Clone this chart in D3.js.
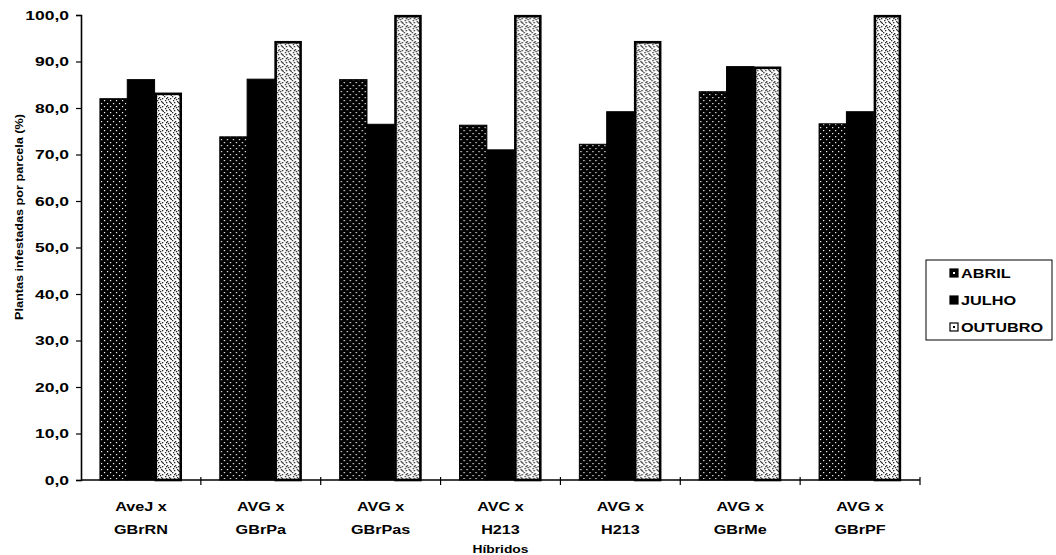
<!DOCTYPE html>
<html>
<head>
<meta charset="utf-8">
<script src="https://cdn.jsdelivr.net/npm/d3@7"></script>
<style>
  body { margin: 0; background: #fff; }
  text { font-family: "Liberation Sans", Arial, sans-serif; fill: #000; }
</style>
</head>
<body>
<div id="chart"></div>
<script>
const categories = ["AveJ x GBrRN", "AVG x GBrPa", "AVG x GBrPas", "AVC x H213", "AVG x H213", "AVG x GBrMe", "AVG x GBrPF"];
const series = ["ABRIL", "JULHO", "OUTUBRO"];
const abril = [82.0, 73.8, 86.1, 76.3, 72.2, 83.5, 76.6];
const julho = [86.1, 86.2, 76.5, 71.0, 79.2, 88.9, 79.2];
const outubro = [83.3, 94.4, 100.0, 100.0, 94.4, 88.9, 100.0];
const yTicks = [0, 10, 20, 30, 40, 50, 60, 70, 80, 90, 100];

const values = { ABRIL: abril, JULHO: julho, OUTUBRO: outubro };
const data = categories.map((c, i) => ({ cat: c, vals: series.map((s) => ({ key: s, v: values[s][i] })) }));

const width = 1056, height = 555;
const plotLeft = 81, plotRight = 920, plotTop = 15, plotBottom = 480;

const svg = d3.select("#chart").append("svg").attr("width", width).attr("height", height);

// patterns that imitate the scanned hatching
const defs = svg.append("defs");
const pa = defs.append("pattern").attr("id", "patAbril").attr("patternUnits", "userSpaceOnUse")
  .attr("width", 6).attr("height", 6);
pa.append("rect").attr("width", 6).attr("height", 6).attr("fill", "#000");
[[1, 1], [4, 4]].forEach((p) => pa.append("rect").attr("x", p[0]).attr("y", p[1]).attr("width", 1.2).attr("height", 1.2).attr("fill", "#fff"));

const po = defs.append("pattern").attr("id", "patOut").attr("patternUnits", "userSpaceOnUse")
  .attr("width", 8).attr("height", 8);
po.append("rect").attr("width", 8).attr("height", 8).attr("fill", "#fff");
[[0, 0], [3, 1], [6, 2], [1, 4], [5, 5], [2, 6], [7, 7], [4, 3], [2, 2], [6, 6]].forEach((p) =>
  po.append("rect").attr("x", p[0]).attr("y", p[1]).attr("width", 1.3).attr("height", 1.3).attr("fill", "#222"));

const fills = { ABRIL: "url(#patAbril)", JULHO: "#000", OUTUBRO: "url(#patOut)" };

const x0 = d3.scaleBand().domain(categories).range([plotLeft, plotRight]).paddingInner(0.316).paddingOuter(0.158);
const x1 = d3.scaleBand().domain(series).range([0, x0.bandwidth()]);
const y = d3.scaleLinear().domain([0, 100]).range([plotBottom, plotTop]);

// widen text horizontally like the scanned original
function stretch(sel, k) {
  sel.each(function () {
    const t = d3.select(this);
    const x = +t.attr("x") || 0;
    t.attr("x", x / k).attr("transform", `scale(${k},1)`);
  });
}

// bars
const groups = svg.selectAll("g.grp").data(data).enter().append("g")
  .attr("transform", (d) => `translate(${x0(d.cat)},0)`);
groups.selectAll("rect").data((d) => d.vals).enter().append("rect")
  .attr("x", (d) => x1(d.key) + (d.key === "OUTUBRO" ? 1.2 : 0))
  .attr("y", (d) => y(d.v) + (d.key === "OUTUBRO" ? 1.2 : 0))
  .attr("width", (d) => x1.bandwidth() - (d.key === "OUTUBRO" ? 2.4 : 0))
  .attr("height", (d) => plotBottom - y(d.v) - (d.key === "OUTUBRO" ? 1.2 : 0))
  .attr("fill", (d) => fills[d.key])
  .attr("stroke", "#000")
  .attr("stroke-width", (d) => (d.key === "OUTUBRO" ? 2.6 : 1));

// y axis
const yAxis = svg.append("g").attr("transform", `translate(${plotLeft},0)`)
  .call(d3.axisLeft(y).tickValues(yTicks).tickSize(5).tickPadding(7)
    .tickFormat((d) => d3.format(".1f")(d).replace(".", ",")));
yAxis.select(".domain").attr("stroke", "#000").attr("stroke-width", 1.6);
yAxis.selectAll(".tick line").attr("stroke", "#000").attr("stroke-width", 1.2);
yAxis.selectAll(".tick text").attr("font-size", 12.5).attr("font-weight", "bold")
  .attr("font-family", "Liberation Sans, Arial, sans-serif").call(stretch, 1.4);

// x axis
const xAxis = svg.append("g").attr("transform", `translate(0,${plotBottom})`);
xAxis.append("line").attr("x1", plotLeft).attr("x2", plotRight).attr("stroke", "#000").attr("stroke-width", 1.6);
const bounds = categories.map((c) => x0(c) - x0.step() * x0.paddingInner() / 2).concat([plotRight]);
xAxis.selectAll("line.tk").data(bounds.slice(1)).enter().append("line")
  .attr("x1", (d) => d).attr("x2", (d) => d).attr("y1", -3).attr("y2", 5)
  .attr("stroke", "#000").attr("stroke-width", 1.2);

const labels = xAxis.selectAll("g.lbl").data(categories).enter().append("g")
  .attr("transform", (d) => `translate(${x0(d) + x0.bandwidth() / 2},0)`);
labels.append("text").attr("y", 31).attr("text-anchor", "middle").attr("font-size", 12).attr("font-weight", "bold")
  .text((d) => d.split(" x ")[0] + " x");
labels.append("text").attr("y", 54).attr("text-anchor", "middle").attr("font-size", 12).attr("font-weight", "bold")
  .text((d) => d.split(" x ")[1]);
labels.selectAll("text").call(stretch, 1.35);

// axis titles
svg.append("g").attr("transform", `translate(${(plotLeft + plotRight) / 2},553)`)
  .append("text").attr("text-anchor", "middle")
  .attr("font-size", 11.5).attr("font-weight", "bold").text("Híbridos").call(stretch, 1.2);
svg.append("g").attr("transform", `translate(23,217) rotate(-90)`)
  .append("text").attr("text-anchor", "middle")
  .attr("font-size", 11).attr("font-weight", "bold").text("Plantas infestadas por parcela (%)").call(stretch, 1.15);

// legend
const lg = svg.append("g").attr("transform", "translate(926,260)");
lg.append("rect").attr("width", 126).attr("height", 80).attr("fill", "#fff").attr("stroke", "#000").attr("stroke-width", 1);
const items = lg.selectAll("g.it").data(series).enter().append("g")
  .attr("transform", (d, i) => `translate(24,${13 + i * 27})`);
items.append("rect").attr("x", 0).attr("y", -4).attr("width", 8).attr("height", 8)
  .attr("fill", (d) => (d === "OUTUBRO" ? "#fff" : "#000")).attr("stroke", "#000").attr("stroke-width", 1.2);
items.filter((d) => d !== "JULHO").append("rect").attr("x", 3).attr("y", -1).attr("width", 2).attr("height", 2)
  .attr("fill", (d) => (d === "ABRIL" ? "#fff" : "#000"));
items.append("text").attr("x", 11).attr("y", 5).attr("font-size", 13).attr("font-weight", "bold")
  .text((d) => d).call(stretch, 1.25);
</script>
</body>
</html>
